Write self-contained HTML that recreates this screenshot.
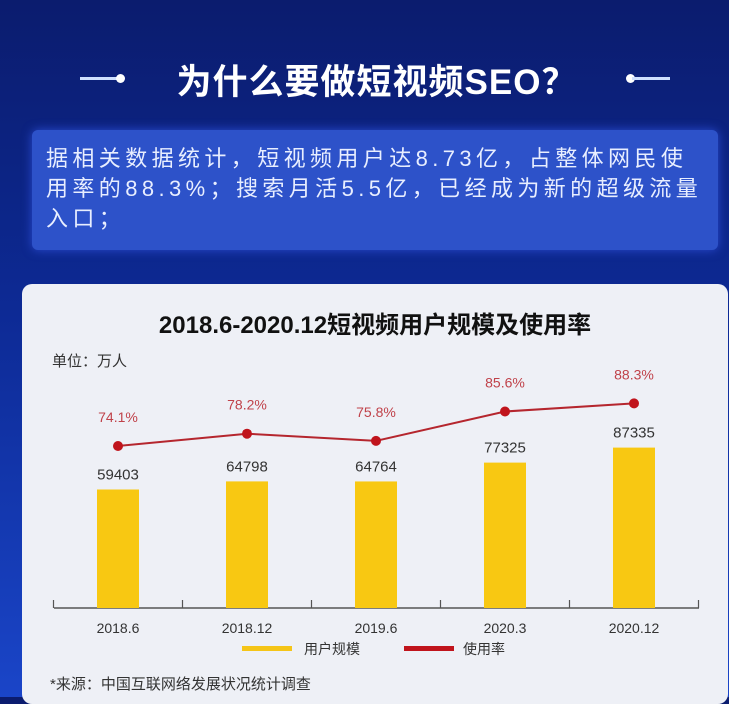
<!DOCTYPE html>
<html><head><meta charset="utf-8"><style>
body{margin:0;width:729px;height:697px;overflow:hidden;font-family:"Liberation Sans","Noto Sans CJK SC",sans-serif;background:linear-gradient(180deg,#0b1c6e 0%,#0d2a95 45%,#1a45c8 100%);position:relative}
.title{position:absolute;top:54px;left:142px;width:470px;text-align:center;color:#fff;font-size:35px;font-weight:bold;letter-spacing:1px;white-space:nowrap}
.dash{position:absolute;top:77px;height:3px;width:38px;background:#cfe0ff}
.dot{position:absolute;top:74px;width:9px;height:9px;border-radius:50%;background:#fff}
.box{position:absolute;left:32px;top:130px;width:686px;height:120px;background:#2d52c9;border-radius:6px;box-shadow:0 0 10px #2a4bd0}
.box p{margin:14px 0 0 14px;color:#e8eeff;font-size:22px;line-height:30px;letter-spacing:4.4px;white-space:nowrap}
.card{position:absolute;left:22px;top:284px;width:706px;height:420px;background:#eef0f6;border-radius:10px}
</style></head><body>
<div class="dash" style="left:80px"></div>
<div class="dot" style="left:116px"></div>
<div class="title">为什么要做短视频SEO？</div>
<div class="dot" style="left:626px"></div>
<div class="dash" style="left:632px"></div>
<div class="box"><p>据相关数据统计，短视频用户达8.73亿，占整体网民使<br>用率的88.3%；搜索月活5.5亿，已经成为新的超级流量<br>入口；</p></div>
<div class="card"></div>
<svg id="chart" width="729" height="697" style="position:absolute;left:0;top:0">
<text x="375" y="333" text-anchor="middle" font-size="24" font-weight="bold" fill="#111">2018.6-2020.12短视频用户规模及使用率</text>
<text x="52" y="366" font-size="15" fill="#333">单位：万人</text>
<line x1="54" y1="608" x2="699" y2="608" stroke="#555" stroke-width="1.5"/>
<g id="legend">
<rect x="242" y="646" width="50" height="5" fill="#f5c518"/>
<text x="304" y="654" font-size="14" fill="#333">用户规模</text>
<rect x="404" y="646" width="50" height="5" fill="#c0141c"/>
<text x="463" y="654" font-size="14" fill="#333">使用率</text>
</g>
<text x="50" y="689" font-size="15" fill="#333">*来源：中国互联网络发展状况统计调查</text>
</svg>
<script>
const categories=["2018.6","2018.12","2019.6","2020.3","2020.12"];
const users=[59403,64798,64764,77325,87335];
const rates=[74.1,78.2,75.8,85.6,88.3];
const svg=document.getElementById('chart');
const NS='http://www.w3.org/2000/svg';
const step=129,first=118,base=608;
const xc=i=>first+step*i;
const yBar=v=>base-(v+19600)*0.0015;
const yRate=v=>446-(v-74.1)*3;
function mk(t,a){const e=document.createElementNS(NS,t);for(const k in a)e.setAttribute(k,a[k]);svg.appendChild(e);return e;}
for(let i=0;i<=categories.length;i++){
 const tx=first-step/2+step*i;
 const t=mk('line',{x1:tx,y1:base-8,x2:tx,y2:base,stroke:'#555','stroke-width':1.2});
 
 
}
categories.forEach((c,i)=>{
 const b=mk('rect',{x:xc(i)-21,y:yBar(users[i]),width:42,height:base-yBar(users[i]),fill:'#f8c812'});
 
 
 const v=mk('text',{x:xc(i),y:yBar(users[i])-10,'text-anchor':'middle','font-size':15,fill:'#333'});v.textContent=users[i];
 
 
 const l=mk('text',{x:xc(i),y:633,'text-anchor':'middle','font-size':14,fill:'#333'});l.textContent=c;
 
 
});
const pl=mk('polyline',{points:rates.map((r,i)=>xc(i)+','+yRate(r)).join(' '),fill:'none',stroke:'#b5262e','stroke-width':2});


rates.forEach((r,i)=>{
 const d=mk('circle',{cx:xc(i),cy:yRate(r),r:5,fill:'#c0141c'});
 
 
 const t=mk('text',{x:xc(i),y:yRate(r)-24,'text-anchor':'middle','font-size':14,fill:'#c0424a'});t.textContent=r.toFixed(1)+'%';
 
 
});
</script>
</body></html>
